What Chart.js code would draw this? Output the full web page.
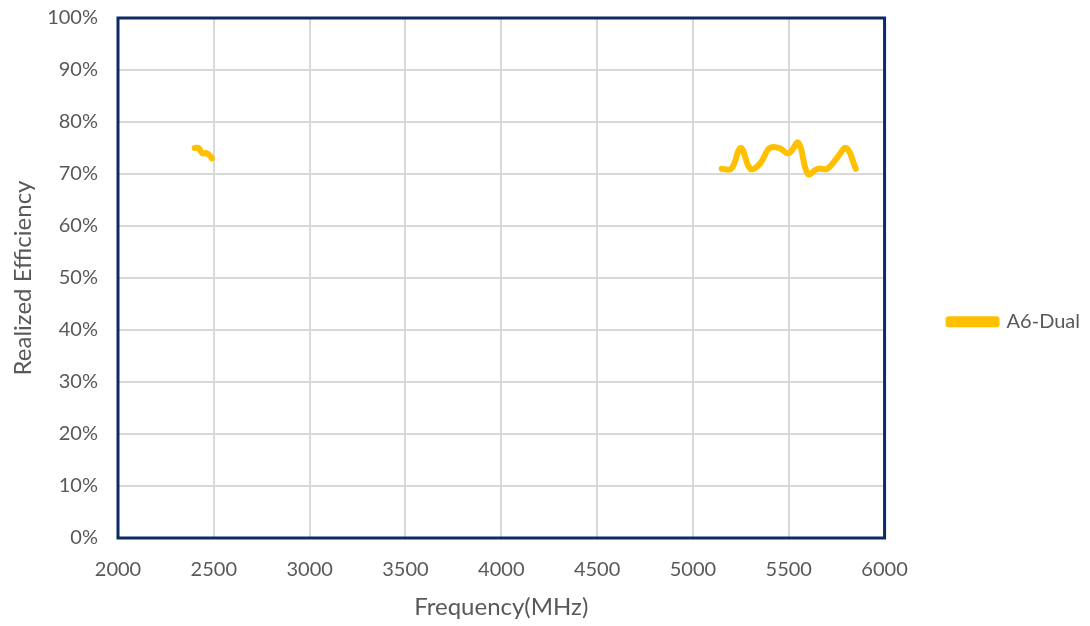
<!DOCTYPE html>
<html>
<head>
<meta charset="utf-8">
<script src="https://cdn.jsdelivr.net/npm/chart.js@4"></script>
<style>
  html, body { margin: 0; padding: 0; background: #fff; }
  #wrap { width: 1090px; height: 626px; }
</style>
</head>
<body>
<div id="wrap"><canvas id="chart"></canvas></div>
<script>
// frequency (MHz) and realized efficiency (%), null breaks the line between bands
const freqs = [2400, 2420, 2440, 2460, 2480, 2490, 3800,
  5150, 5200, 5250, 5300, 5350, 5400, 5450, 5500, 5550, 5600, 5650, 5700, 5750, 5800, 5850];
const efficiency = [75, 75, 74, 74, 73.5, 73, null,
  71, 71, 75, 71, 72, 75, 75, 74, 76, 70, 71, 71, 73, 75, 71];
const xTicks = [2000, 2500, 3000, 3500, 4000, 4500, 5000, 5500, 6000];
const seriesName = 'A6-Dual';

const points = freqs.map((f, i) => ({ x: f, y: efficiency[i] }));

const frame = {
  id: 'frame',
  afterDatasetsDraw(chart) {
    const { ctx, chartArea: a } = chart;
    ctx.save();
    ctx.strokeStyle = '#0E2A64';
    ctx.lineWidth = 3;
    ctx.strokeRect(a.left, a.top, a.right - a.left, a.bottom - a.top);
    ctx.restore();
  }
};

const font = { family: 'Lato', size: 20 };
const titleFont = { family: 'Lato', size: 24 };

new Chart(document.getElementById('chart'), {
  type: 'line',
  data: {
    datasets: [{
      label: seriesName,
      data: points,
      borderColor: '#FFC000',
      backgroundColor: '#FFC000',
      borderWidth: 6,
      borderCapStyle: 'round',
      borderJoinStyle: 'round',
      pointRadius: 0,
      tension: 0.4,
      spanGaps: false
    }]
  },
  options: {
    responsive: true,
    maintainAspectRatio: false,
    animation: false,
    layout: { padding: { left: 5, top: 18, right: 0, bottom: 4 } },
    plugins: {
      tooltip: { enabled: false },
      legend: {
        position: 'right',
        maxWidth: 206,
        title: { display: true, text: '', font: { size: 3 }, padding: 0 },
        labels: {
          color: '#595959',
          font: font,
          boxWidth: 48,
          boxHeight: 5,
          padding: 64
        }
      }
    },
    scales: {
      x: {
        type: 'linear',
        min: 2000,
        max: 6000,
        afterBuildTicks(scale) { scale.ticks = xTicks.map(v => ({ value: v })); },
        afterFit(scale) { scale.height = 84; },
        grid: { color: '#D9D9D9', lineWidth: 2, drawTicks: false },
        border: { display: false },
        ticks: { color: '#595959', font: font, padding: 20, callback: v => String(v) },
        title: { display: true, text: 'Frequency(MHz)', color: '#595959', font: titleFont, padding: { top: 11, bottom: 0 } }
      },
      y: {
        min: 0,
        max: 100,
        afterFit(scale) { scale.width = 113; scale.paddingTop = 0; scale.paddingBottom = 0; },
        grid: { color: '#D9D9D9', lineWidth: 2, drawTicks: false },
        border: { display: false },
        ticks: { stepSize: 10, color: '#595959', font: font, padding: 20, callback: v => v + '%' },
        title: { display: true, text: 'Realized Efficiency', color: '#595959', font: titleFont, padding: { top: 4, bottom: 9 } }
      }
    }
  },
  plugins: [frame]
});
</script>
</body>
</html>
